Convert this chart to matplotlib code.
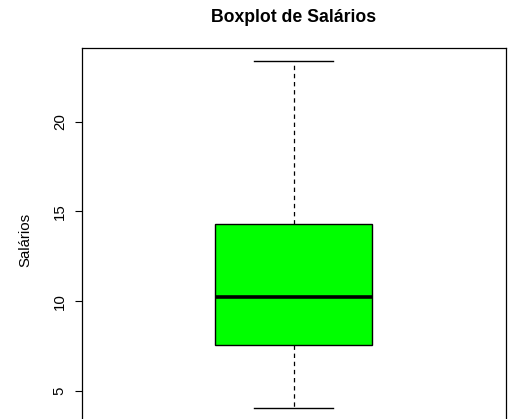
import matplotlib.pyplot as plt

# Estatísticas
rotulo = "Salários"
minimo = 4.03
q1 = 7.56
mediana = 10.21
q3 = 14.28
maximo = 23.37
ticks_y = [5, 10, 15, 20]

plt.rcParams['font.family'] = ['Liberation Sans', 'DejaVu Sans']

fig = plt.figure(figsize=(5.09, 4.19), dpi=100)
# eixo um pouco abaixo da borda inferior (figura cortada como no original)
ax = fig.add_axes([81.7 / 509, -3.0 / 419, 424.0 / 509, 374.4 / 419])

stats = [{
    'med': mediana, 'q1': q1, 'q3': q3,
    'whislo': minimo, 'whishi': maximo, 'fliers': [],
}]
ax.bxp(stats, positions=[1], widths=0.37, patch_artist=True,
       showfliers=False,
       boxprops=dict(facecolor='#00ff00', edgecolor='black', linewidth=1),
       medianprops=dict(color='black', linewidth=2.6, solid_capstyle='butt'),
       whiskerprops=dict(color='black', linewidth=0.9, linestyle=(0, (3.5, 3))),
       capprops=dict(color='black', linewidth=1.0))

span = maximo - minimo
ax.set_ylim(minimo - 0.04 * span, maximo + 0.04 * span)
ax.set_xlim(0.5, 1.5)
ax.set_xticks([])
ax.set_yticks(ticks_y)
ax.set_yticklabels([str(t) for t in ticks_y], rotation=90, va='center',
                   fontsize=10.8)
ax.tick_params(axis='y', length=5.2, width=0.8, pad=5.5)
for s in ax.spines.values():
    s.set_linewidth(0.9)
ax.set_ylabel(rotulo, fontsize=10.8, va='center')
ax.yaxis.set_label_coords((25 - 81.7) / 424, (419 - 234) / 419 * 419 / 374.4 - 3.0 / 374.4)

fig.text(293.5 / 509, 1 - 17.0 / 419, "Boxplot de Salários", ha='center',
         va='center', fontsize=12.7, fontweight='bold')

fig.savefig("out.png", dpi=100)
